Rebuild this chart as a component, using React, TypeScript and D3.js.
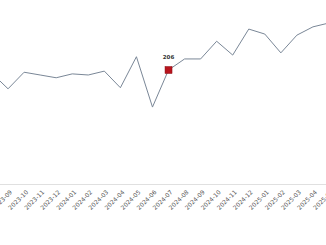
import * as d3 from "d3";
import React, { useEffect, useRef } from "react";

const months = [
  "2023-08", "2023-09", "2023-10", "2023-11", "2023-12",
  "2024-01", "2024-02", "2024-03", "2024-04", "2024-05", "2024-06",
  "2024-07", "2024-08", "2024-09", "2024-10", "2024-11", "2024-12",
  "2025-01", "2025-02", "2025-03", "2025-04", "2025-05",
];
const values = [
  200, 172, 202, 197, 192, 199, 197, 204, 174, 230, 139,
  206, 226, 226, 258, 233, 280, 271, 237, 269, 284, 291,
];
const markedMonth = "2024-07";

const W = 326;
const H = 245;

export default function App() {
  const ref = useRef<SVGSVGElement>(null);

  useEffect(() => {
    const svg = d3.select(ref.current);
    svg.selectAll("*").remove();

    const x = d3.scalePoint<string>().domain(months).range([-8, 329]);
    const y = d3.scaleLinear().domain([0, 300]).range([184, 18]);

    // axis line
    svg.append("line")
      .attr("x1", 0).attr("x2", W)
      .attr("y1", 184.5).attr("y2", 184.5)
      .attr("stroke", "#e0e0e0")
      .attr("stroke-width", 1);

    // tick labels
    svg.append("g")
      .selectAll("text")
      .data(months)
      .enter()
      .append("text")
      .attr("transform", (d) => `translate(${x(d)! + 3}, 191) rotate(-45)`)
      .attr("text-anchor", "end")
      .attr("dy", "0.35em")
      .attr("font-family", "DejaVu Sans, sans-serif")
      .attr("font-size", 6)
      .attr("fill", "#555")
      .text((d) => d);

    const line = d3.line<number>()
      .x((_, i) => x(months[i])!)
      .y((d) => y(d));

    svg.append("path")
      .datum(values)
      .attr("d", line)
      .attr("fill", "none")
      .attr("stroke", "#7a8797")
      .attr("stroke-width", 1);

    const mi = months.indexOf(markedMonth);
    const mx = x(markedMonth)!;
    const my = y(values[mi]);
    svg.append("rect")
      .attr("x", mx - 3.5).attr("y", my - 3.5)
      .attr("width", 7).attr("height", 7)
      .attr("fill", "#b8141d")
      .attr("stroke", "#8a0e14")
      .attr("stroke-width", 0.5);

    svg.append("text")
      .attr("x", mx).attr("y", my - 11)
      .attr("text-anchor", "middle")
      .attr("font-family", "DejaVu Sans, sans-serif")
      .attr("font-size", 5.5)
      .attr("font-weight", "bold")
      .attr("fill", "#333")
      .text(values[mi]);
  }, []);

  return (
    <svg
      ref={ref}
      width={W}
      height={H}
      style={{ position: "absolute", left: 0, top: 0, background: "#fff" }}
    />
  );
}
